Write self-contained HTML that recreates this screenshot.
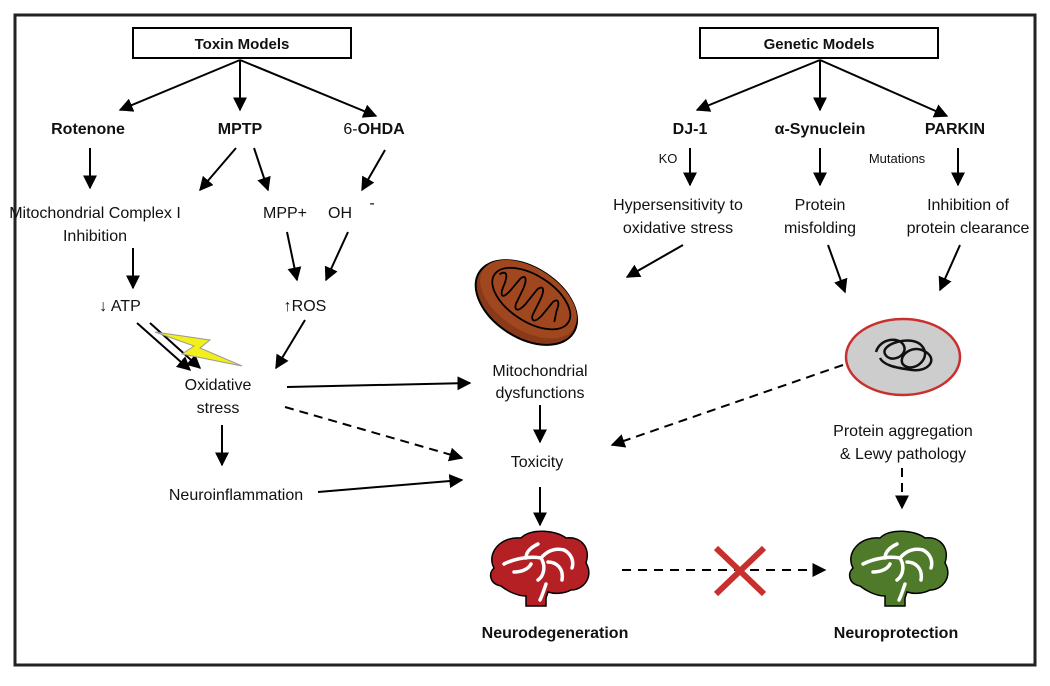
<!DOCTYPE html>
<html><head><meta charset="utf-8"><style>
body{margin:0;background:#fff}
svg text{font-family:"Liberation Sans",sans-serif;fill:#111}
</style></head><body>
<svg width="1050" height="681" viewBox="0 0 1050 681" xmlns="http://www.w3.org/2000/svg">
<defs>
<marker id="a" viewBox="0 0 10 10" refX="9" refY="5" markerWidth="7" markerHeight="7" orient="auto"><path d="M0,0L10,5L0,10z" fill="#000"/></marker>
<g id="brain">
<path d="M8,40 C0,25 15,8 35,10 C45,0 70,2 80,10 C95,8 105,20 100,35 C108,48 98,62 85,62 C78,66 68,66 62,64 L60,70 L60,78 L40,78 L40,68 C30,68 20,62 15,58 C4,56 2,46 8,40Z" stroke="#000" stroke-width="1.5"/>
<path d="M18,36 C30,30 45,28 55,30 C62,22 70,20 78,22 M40,30 C40,22 48,18 52,16 M55,30 C60,38 58,48 52,52 M62,34 C70,34 78,40 76,52 M78,22 C86,26 88,34 86,40 M45,36 C42,42 34,44 28,44 M60,56 C58,62 56,68 54,72" stroke="#fff" stroke-width="3.5" fill="none" stroke-linecap="round"/>
</g>
</defs>
<rect x="15" y="15" width="1020" height="650" fill="#fff" stroke="#222" stroke-width="3"/>
<g fill="none" stroke="#000" stroke-width="2">
<rect x="133" y="28" width="218" height="30" fill="#fff"/>
<rect x="700" y="28" width="238" height="30" fill="#fff"/>
</g>
<g font-size="15" font-weight="bold" text-anchor="middle">
<text x="242" y="49">Toxin Models</text>
<text x="819" y="49">Genetic Models</text>
</g>
<g stroke="#000" stroke-width="2" fill="none" marker-end="url(#a)">
<path d="M240,60L120,110"/><path d="M240,60L240,110"/><path d="M240,60L376,116"/>
<path d="M820,60L697,110"/><path d="M820,60L820,110"/><path d="M820,60L947,116"/>
<path d="M90,148L90,188"/><path d="M236,148L200,190"/><path d="M254,148L268,190"/><path d="M385,150L362,190"/>
<path d="M133,248L133,288"/><path d="M287,232L297,280"/><path d="M348,232L326,280"/>
<path d="M137,323L190,370"/><path d="M150,323L200,368"/><path d="M305,320L276,368"/>
<path d="M222,425L222,465"/><path d="M287,387L470,383"/><path d="M318,492L462,480"/>
<path d="M285,407L462,458" stroke-dasharray="9,6"/>
<path d="M540,405L540,442"/><path d="M540,487L540,525"/>
<path d="M622,570L825,570" stroke-dasharray="9,7"/>
<path d="M690,148L690,185"/><path d="M820,148L820,185"/><path d="M958,148L958,185"/>
<path d="M683,245L627,277"/><path d="M828,245L845,292"/><path d="M960,245L940,290"/>
<path d="M843,365L612,445" stroke-dasharray="9,6"/>
<path d="M902,468L902,508" stroke-dasharray="9,6"/>
</g>
<g font-size="16" text-anchor="middle">
<text x="88" y="134" font-weight="bold">Rotenone</text>
<text x="240" y="134" font-weight="bold">MPTP</text>
<text x="374" y="134">6-<tspan font-weight="bold">OHDA</tspan></text>
<text x="690" y="134" font-weight="bold">DJ-1</text>
<text x="820" y="134" font-weight="bold">α-Synuclein</text>
<text x="955" y="134" font-weight="bold">PARKIN</text>
<text x="95" y="218">Mitochondrial Complex I</text>
<text x="95" y="241">Inhibition</text>
<text x="285" y="218">MPP+</text>
<text x="340" y="218">OH</text>
<text x="372" y="208">-</text>
<text x="120" y="311">↓ ATP</text>
<text x="305" y="311">↑ROS</text>
<text x="218" y="390">Oxidative</text>
<text x="218" y="413">stress</text>
<text x="236" y="500">Neuroinflammation</text>
<text x="540" y="376">Mitochondrial</text>
<text x="540" y="398">dysfunctions</text>
<text x="537" y="467">Toxicity</text>
<text x="678" y="210">Hypersensitivity to</text>
<text x="678" y="233">oxidative stress</text>
<text x="820" y="210">Protein</text>
<text x="820" y="233">misfolding</text>
<text x="968" y="210">Inhibition of</text>
<text x="968" y="233">protein clearance</text>
<text x="903" y="436">Protein aggregation</text>
<text x="903" y="459">&amp; Lewy pathology</text>
<text x="555" y="638" font-weight="bold">Neurodegeneration</text>
<text x="896" y="638" font-weight="bold">Neuroprotection</text>
<text x="668" y="163" font-size="13">KO</text>
<text x="897" y="163" font-size="13">Mutations</text>
</g>
<path d="M155,332 L210,340 L200,348 L242,366 L182,354 L194,346Z" fill="#f3ef1a" stroke="#999" stroke-width="1"/>
<g transform="translate(528,300) rotate(33)">
<ellipse cx="0" cy="3" rx="56" ry="35" fill="#8a3a18" stroke="#000" stroke-width="2"/>
<ellipse cx="0" cy="-1" rx="54" ry="31" fill="#a0471f" stroke="none"/>
<ellipse cx="2" cy="-3" rx="44" ry="23" fill="none" stroke="#000" stroke-width="1.8"/>
<path d="M-38,-6 C-34,-14 -30,-10 -28,2 C-26,12 -22,14 -20,2 L-18,-14 C-16,-20 -12,-18 -10,-6 L-8,10 C-6,16 -2,16 0,6 L2,-14 C4,-20 8,-20 10,-8 L12,10 C14,16 18,16 20,6 L22,-12 C24,-18 28,-16 30,-6 L34,4" fill="none" stroke="#000" stroke-width="1.8"/>
</g>
<ellipse cx="903" cy="357" rx="57" ry="38" fill="#cdcdcd" stroke="#c8302e" stroke-width="2.5"/>
<path d="M876,352 C880,338 900,336 904,346 C908,356 890,364 885,354 C880,344 912,334 922,346 C932,358 915,372 905,366 C895,360 910,342 926,352 C938,360 928,372 912,370 C898,368 884,366 880,358" fill="none" stroke="#111" stroke-width="2.5"/>
<use href="#brain" transform="translate(486,528)" fill="#b52025"/>
<use href="#brain" transform="translate(845,528)" fill="#4e7a2a"/>
<g stroke="#c8302e" stroke-width="6"><path d="M716,548L764,594M764,548L716,594"/></g>
</svg>
</body></html>
